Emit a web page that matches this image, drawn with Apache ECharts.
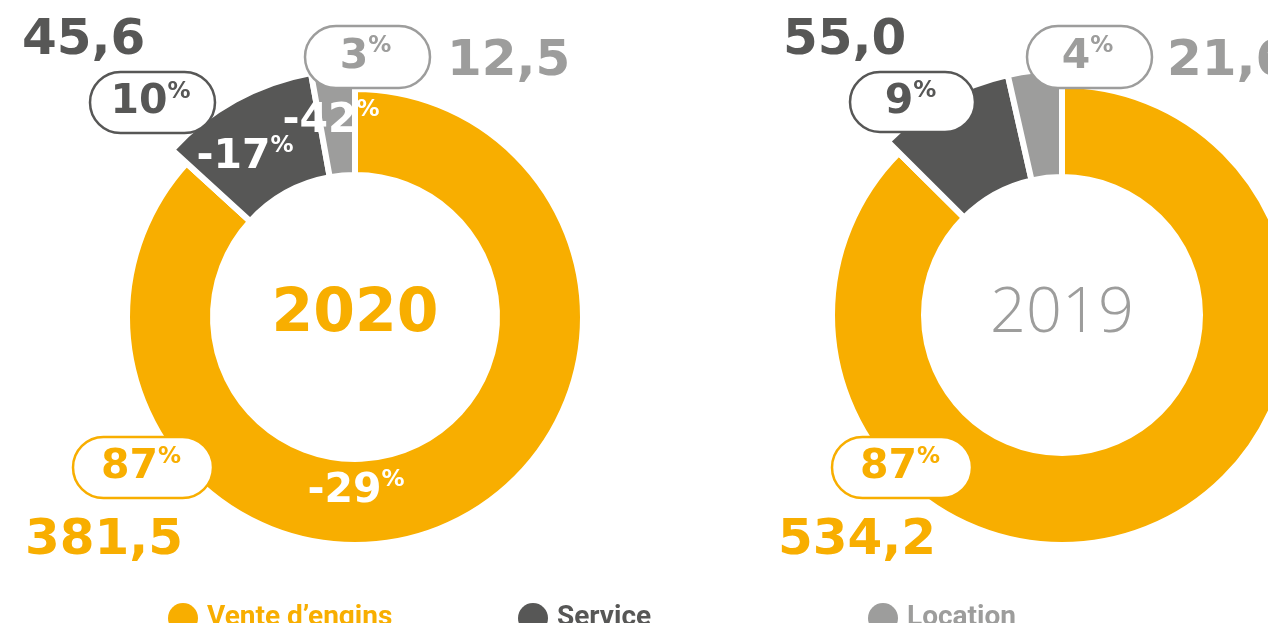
<!DOCTYPE html>
<html>
<head>
<meta charset="utf-8">
<script src="https://cdn.jsdelivr.net/npm/echarts@6/dist/echarts.min.js"></script>
<style>
  html, body { margin: 0; padding: 0; background: #fff; }
  #chart { width: 1268px; height: 623px; }
</style>
</head>
<body>
<div id="chart"></div>
<script>
var categories = ['Vente d’engins', 'Service', 'Location']
var years = ['2020', '2019']
var values2020 = [381.5, 45.6, 12.5]
var values2019 = [534.2, 55.0, 21.6]
var colors = ['#f8ae00', '#575756', '#9d9d9c']

var NUM_FONT = '"DejaVu Sans", sans-serif'
var LEGEND_FONT = 'Roboto, sans-serif'

function fmt(v) {
  return v.toFixed(1).replace('.', ',')
}
function shares(values) {
  var total = values.reduce(function(a, b) { return a + b }, 0)
  return values.map(function(v) { return Math.round(v / total * 100) })
}
function changes(cur, prev) {
  return cur.map(function(v, i) { return Math.round((v / prev[i] - 1) * 100) })
}

// two rings per year: the main one and a wider one for the small slices
function rings(values, center, inner, outer, outerSmall) {
  var base = {
    type: 'pie',
    center: center,
    startAngle: 90,
    silent: true,
    animation: false,
    label: { show: false },
    labelLine: { show: false },
    emphasis: { disabled: true }
  }
  var main = Object.assign({}, base, {
    radius: [inner, outer],
    data: values.map(function(v, i) {
      return { name: categories[i], value: v, itemStyle: { color: colors[i], borderColor: '#fff', borderWidth: 6 }}
    })
  })
  var small = Object.assign({}, base, {
    radius: [inner, outerSmall],
    data: values.map(function(v, i) {
      return {
        name: categories[i],
        value: v,
        itemStyle: i === 0 ? { color: 'transparent', borderWidth: 0 } : { color: colors[i], borderColor: '#fff', borderWidth: 6 }
      }
    })
  })
  return [main, small]
}

function pctText(x, y, num, color) {
  return {
    type: 'text', x: x, y: y, z: 20,
    style: {
      text: '{n|' + num + '}{p|%}',
      rich: {
        n: { fontFamily: NUM_FONT, fontWeight: 'bold', fontSize: 41, lineHeight: 44, fill: color },
        p: { fontFamily: NUM_FONT, fontWeight: 'bold', fontSize: 23, lineHeight: 26, fill: color, verticalAlign: 'top' }
      },
      align: 'center', verticalAlign: 'middle'
    }
  }
}

function pill(cx, cy, w, h, num, color) {
  return [{
    type: 'rect', z: 15,
    shape: { x: cx - w / 2, y: cy - h / 2, width: w, height: h, r: h / 2 },
    style: { fill: '#fff', stroke: color, lineWidth: 2.5 }
  }, pctText(cx - 2, cy, num, color)]
}

function bigNumber(x, y, value, color) {
  return {
    type: 'text', x: x, y: y, z: 20,
    style: {
      text: fmt(value),
      font: 'bold 50px ' + NUM_FONT,
      fill: color,
      align: 'left', verticalAlign: 'middle'
    }
  }
}

var share20 = shares(values2020)
var share19 = shares(values2019)
var change20 = changes(values2020, values2019)

var chart = echarts.init(document.getElementById('chart'))

var graphics = [].concat(
  // 2020
  bigNumber(22, 41, values2020[1], colors[1]),
  pill(152.5, 102.5, 125, 61, share20[1], colors[1]),
  pill(367.5, 57, 125, 62, share20[2], colors[2]),
  bigNumber(447, 62, values2020[2], colors[2]),
  pill(143, 467.5, 140, 61, share20[0], colors[0]),
  bigNumber(25, 541, values2020[0], colors[0]),
  pctText(245, 157, change20[1], '#fff'),
  pctText(331, 121, change20[2], '#fff'),
  pctText(356, 491, change20[0], '#fff'),
  {
    type: 'text', x: 355, y: 315, z: 20,
    style: {
      text: years[0], font: 'bold 60px ' + NUM_FONT, fill: colors[0],
      align: 'center', verticalAlign: 'middle'
    }
  },
  // 2019
  bigNumber(783, 41, values2019[1], colors[1]),
  pill(912.5, 102, 125, 60, share19[1], colors[1]),
  pill(1089.5, 57, 125, 62, share19[2], colors[2]),
  bigNumber(1167, 62, values2019[2], colors[2]),
  pill(902, 467.5, 140, 61, share19[0], colors[0]),
  bigNumber(778, 541, values2019[0], colors[0]),
  {
    type: 'text', x: 1062, y: 314, z: 20,
    style: {
      text: years[1], font: '300 63px "Open Sans", sans-serif', fill: colors[2],
      align: 'center', verticalAlign: 'middle'
    }
  }
)

// one legend block per category so the items sit 350px apart
var legends = categories.map(function(c, i) {
  return {
    left: 163 + 350 * i,
    top: 598,
    icon: 'circle',
    itemWidth: 30,
    itemHeight: 30,
    selectedMode: false,
    itemStyle: { borderWidth: 0 },
    textStyle: {
      fontFamily: LEGEND_FONT,
      fontWeight: 'bold',
      fontSize: 28,
      color: colors[i],
      padding: [0, 0, 0, 4]
    },
    data: [{ name: c, itemStyle: { color: colors[i], borderWidth: 0 }}]
  }
})

chart.setOption({
  animation: false,
  legend: legends,
  graphic: graphics,
  series: [].concat(
    rings(values2020, [355, 317], 142, 228, 248),
    rings(values2019, [1062, 315], 138, 230, 246)
  )
})
</script>
</body>
</html>
